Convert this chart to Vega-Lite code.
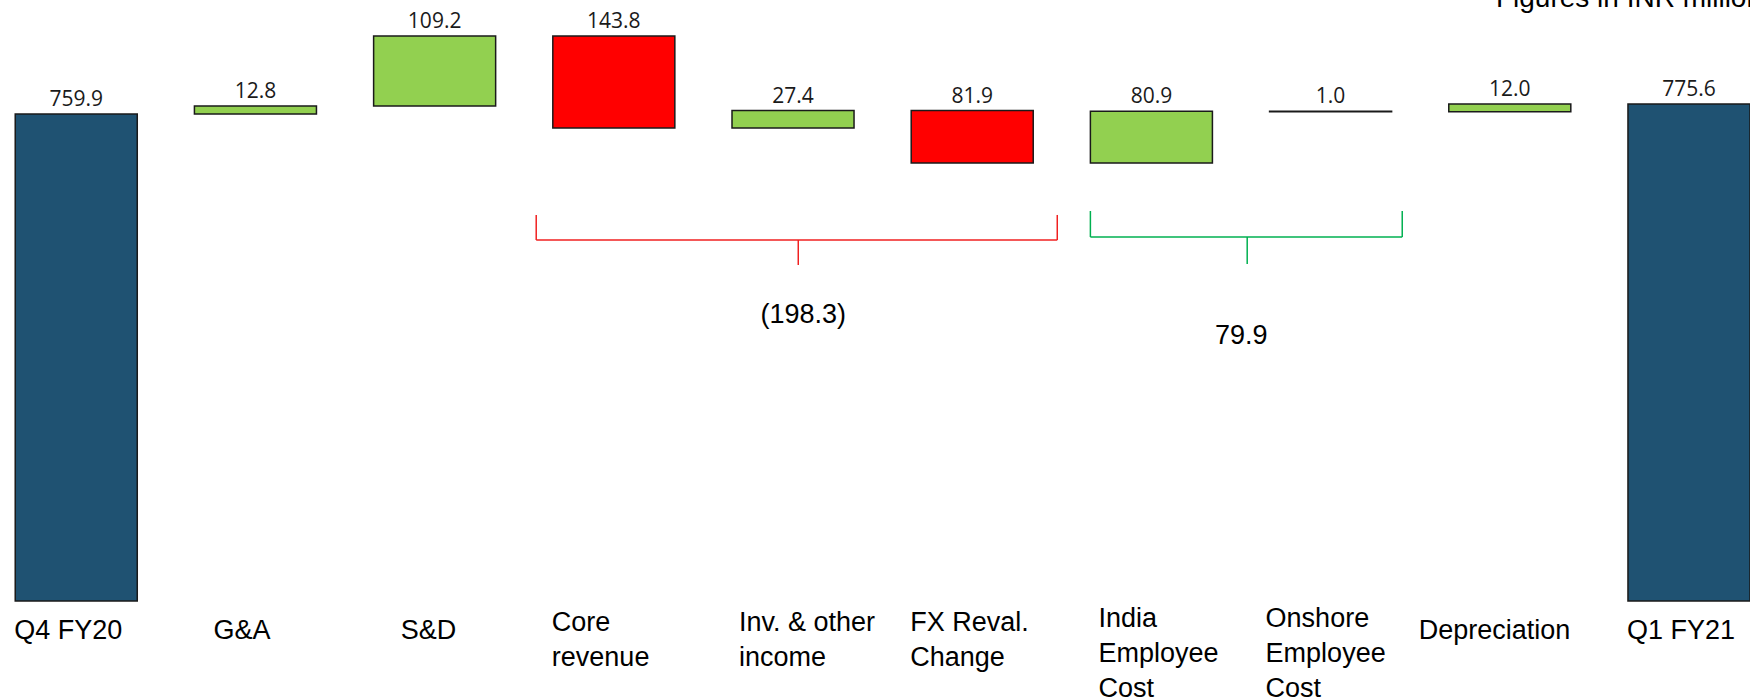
{
  "$schema": "https://vega.github.io/schema/vega-lite/v6.json",
  "width": 1750,
  "height": 601,
  "autosize": {"type": "none"},
  "padding": {"left": 0, "top": 0, "right": 0, "bottom": 98},
  "background": "white",
  "config": {
    "view": {"stroke": null},
    "axisY": {"disable": true},
    "font": "Liberation Sans"
  },
  "datasets": {
    "steps": [
      {"category": "Q4 FY20", "kind": "total", "start": 0, "end": 759.9, "amount": 759.9},
      {"category": "G&A", "kind": "increase", "start": 759.9, "end": 772.7, "amount": 12.8},
      {"category": "S&D", "kind": "increase", "start": 772.7, "end": 881.9, "amount": 109.2},
      {"category": "Core\nrevenue", "kind": "decrease", "start": 881.9, "end": 738.1, "amount": 143.8},
      {"category": "Inv. & other\nincome", "kind": "increase", "start": 738.1, "end": 765.5, "amount": 27.4},
      {"category": "FX Reval.\nChange", "kind": "decrease", "start": 765.5, "end": 683.6, "amount": 81.9},
      {"category": "India\nEmployee\nCost", "kind": "increase", "start": 683.6, "end": 764.5, "amount": 80.9},
      {"category": "Onshore\nEmployee\nCost", "kind": "decrease", "start": 764.5, "end": 763.5, "amount": 1.0},
      {"category": "Depreciation", "kind": "increase", "start": 763.5, "end": 775.5, "amount": 12.0},
      {"category": "Q1 FY21", "kind": "total", "start": 0, "end": 775.6, "amount": 775.6}
    ],
    "braces": [
      {"group": "core", "from": "Core\nrevenue", "mid": "Inv. & other\nincome", "to": "FX Reval.\nChange", "total": -198.3},
      {"group": "employee", "from": "India\nEmployee\nCost", "mid": "India\nEmployee\nCost", "to": "Onshore\nEmployee\nCost", "total": 79.9}
    ],
    "note": [
      {"category": "Q1 FY21", "note": "Figures in INR millions"}
    ]
  },
  "layer": [
    {
      "data": {"name": "steps"},
      "mark": {"type": "bar", "stroke": "#1a1a1a", "strokeWidth": 1.5},
      "encoding": {
        "x": {
          "field": "category", "type": "nominal", "sort": null, "title": null,
          "scale": {
            "domain": ["Q4 FY20", "G&A", "S&D", "Core\nrevenue", "Inv. & other\nincome", "FX Reval.\nChange", "India\nEmployee\nCost", "Onshore\nEmployee\nCost", "Depreciation", "Q1 FY21"],
            "paddingInner": 0.319, "paddingOuter": 0.0425, "align": 1
          },
          "axis": {
            "labelAlign": "left",
            "labelAngle": 0,
            "labelBaseline": "top",
            "labelFontSize": 27,
            "labelFont": "Liberation Sans",
            "labelColor": "#000000",
            "labelLineHeight": 35,
            "labelLimit": 0,
            "labelExpr": "split(datum.label, '\\n')",
            "domain": false,
            "ticks": false,
            "tickSize": 0,
            "grid": false,
            "labelOffset": {
              "condition": [
                {"test": "datum.value == 'G&A'", "value": -42},
                {"test": "datum.value == 'S&D'", "value": -34},
                {"test": "datum.value == 'Depreciation'", "value": -91},
                {"test": "indexof(datum.value, 'Inv.') == 0", "value": -54},
                {"test": "indexof(datum.value, 'India') == 0", "value": -53},
                {"test": "indexof(datum.value, 'Onshore') == 0", "value": -65}
              ],
              "value": -62
            },
            "labelPadding": {
              "condition": [
                {"test": "length(split(datum.value, '\\n')) == 3", "value": 4},
                {"test": "length(split(datum.value, '\\n')) == 2", "value": 8}
              ],
              "value": 16
            }
          }
        },
        "y": {"field": "start", "type": "quantitative", "scale": {"domain": [0, 938], "nice": false, "zero": false}, "axis": null},
        "y2": {"field": "end"},
        "fill": {
          "field": "kind", "type": "nominal",
          "scale": {"domain": ["total", "increase", "decrease"], "range": ["#1F5272", "#92D050", "#FF0000"]},
          "legend": null
        }
      }
    },
    {
      "data": {"name": "steps"},
      "transform": [{"calculate": "max(datum.start, datum.end)", "as": "top"}],
      "mark": {"type": "text", "baseline": "alphabetic", "dy": -8, "font": "Open Sans", "fontSize": 21, "color": "#1a1a1a"},
      "encoding": {
        "x": {"field": "category", "type": "nominal", "title": null},
        "y": {"field": "top", "type": "quantitative", "axis": null},
        "text": {"field": "amount", "type": "quantitative", "format": ".1f"}
      }
    },
    {
      "data": {"name": "braces"},
      "transform": [{"filter": "datum.group == 'core'"}],
      "mark": {"type": "rule", "color": "#F02020", "strokeWidth": 1.5},
      "encoding": {
        "x": {"field": "from", "type": "nominal", "bandPosition": -0.136, "title": null},
        "x2": {"field": "to", "bandPosition": 1.197},
        "y": {"datum": 563.4, "type": "quantitative", "axis": null}
      }
    },
    {
      "data": {"name": "braces"},
      "transform": [{"filter": "datum.group == 'core'"}],
      "mark": {"type": "rule", "color": "#F02020", "strokeWidth": 1.5},
      "encoding": {
        "x": {"field": "from", "type": "nominal", "bandPosition": -0.136, "title": null},
        "y": {"datum": 602.5, "type": "quantitative", "axis": null},
        "y2": {"datum": 563.4}
      }
    },
    {
      "data": {"name": "braces"},
      "transform": [{"filter": "datum.group == 'core'"}],
      "mark": {"type": "rule", "color": "#F02020", "strokeWidth": 1.5},
      "encoding": {
        "x": {"field": "to", "type": "nominal", "bandPosition": 1.197, "title": null},
        "y": {"datum": 602.5, "type": "quantitative", "axis": null},
        "y2": {"datum": 563.4}
      }
    },
    {
      "data": {"name": "braces"},
      "transform": [{"filter": "datum.group == 'core'"}],
      "mark": {"type": "rule", "color": "#F02020", "strokeWidth": 1.5},
      "encoding": {
        "x": {"field": "mid", "type": "nominal", "bandPosition": 0.543, "title": null},
        "y": {"datum": 563.4, "type": "quantitative", "axis": null},
        "y2": {"datum": 524.4}
      }
    },
    {
      "data": {"name": "braces"},
      "transform": [{"filter": "datum.group == 'core'"}],
      "mark": {"type": "text", "baseline": "alphabetic", "align": "center", "font": "Liberation Sans", "fontSize": 27, "color": "#000000"},
      "encoding": {
        "x": {"field": "mid", "type": "nominal", "bandPosition": 0.584, "title": null},
        "y": {"datum": 433.9, "type": "quantitative", "axis": null},
        "text": {"field": "total", "type": "quantitative", "format": "(.1f"}
      }
    },
    {
      "data": {"name": "braces"},
      "transform": [{"filter": "datum.group == 'employee'"}],
      "mark": {"type": "rule", "color": "#00B050", "strokeWidth": 1.5},
      "encoding": {
        "x": {"field": "from", "type": "nominal", "bandPosition": 0, "title": null},
        "x2": {"field": "to", "bandPosition": 1.087},
        "y": {"datum": 568.1, "type": "quantitative", "axis": null}
      }
    },
    {
      "data": {"name": "braces"},
      "transform": [{"filter": "datum.group == 'employee'"}],
      "mark": {"type": "rule", "color": "#00B050", "strokeWidth": 1.5},
      "encoding": {
        "x": {"field": "from", "type": "nominal", "bandPosition": 0, "title": null},
        "y": {"datum": 608.7, "type": "quantitative", "axis": null},
        "y2": {"datum": 568.1}
      }
    },
    {
      "data": {"name": "braces"},
      "transform": [{"filter": "datum.group == 'employee'"}],
      "mark": {"type": "rule", "color": "#00B050", "strokeWidth": 1.5},
      "encoding": {
        "x": {"field": "to", "type": "nominal", "bandPosition": 1.087, "title": null},
        "y": {"datum": 608.7, "type": "quantitative", "axis": null},
        "y2": {"datum": 568.1}
      }
    },
    {
      "data": {"name": "braces"},
      "transform": [{"filter": "datum.group == 'employee'"}],
      "mark": {"type": "rule", "color": "#00B050", "strokeWidth": 1.5},
      "encoding": {
        "x": {"field": "mid", "type": "nominal", "bandPosition": 1.285, "title": null},
        "y": {"datum": 568.1, "type": "quantitative", "axis": null},
        "y2": {"datum": 526.0}
      }
    },
    {
      "data": {"name": "braces"},
      "transform": [{"filter": "datum.group == 'employee'"}],
      "mark": {"type": "text", "baseline": "alphabetic", "align": "center", "font": "Liberation Sans", "fontSize": 27, "color": "#000000"},
      "encoding": {
        "x": {"field": "mid", "type": "nominal", "bandPosition": 1.236, "title": null},
        "y": {"datum": 401.1, "type": "quantitative", "axis": null},
        "text": {"field": "total", "type": "quantitative", "format": "(.1f"}
      }
    },
    {
      "data": {"name": "note"},
      "mark": {"type": "text", "baseline": "alphabetic", "align": "right", "dx": 26, "font": "Liberation Sans", "fontSize": 28, "color": "#000000"},
      "encoding": {
        "x": {"field": "category", "type": "nominal", "bandPosition": 1, "title": null},
        "y": {"datum": 927, "type": "quantitative", "axis": null},
        "text": {"field": "note", "type": "nominal"}
      }
    }
  ]
}
